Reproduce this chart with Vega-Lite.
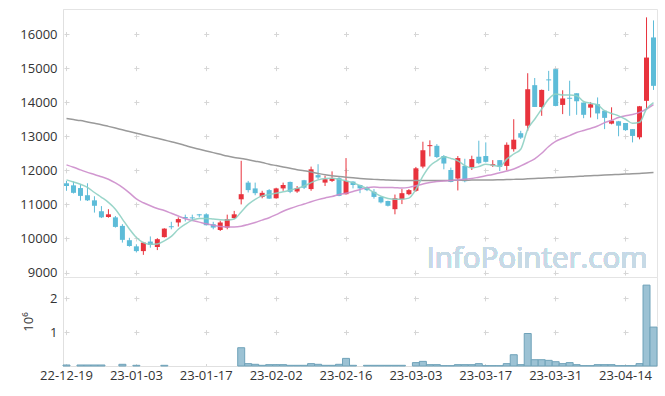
{
  "$schema": "https://vega.github.io/schema/vega-lite/v6.json",
  "autosize": {"type": "pad"},
  "padding": {"left": 19, "top": 8, "right": 9, "bottom": 5},
  "background": "white",
  "spacing": 0,
  "bounds": "flush",
  "config": {
    "view": {"stroke": "#e4e4e4", "strokeWidth": 1},
    "axis": {
      "labelFont": "Open Sans",
      "labelFontSize": 13,
      "labelColor": "#333333",
      "titleFont": "Open Sans",
      "domainColor": "#e0e0e0",
      "ticks": false,
      "gridColor": "#d6d6d6",
      "gridWidth": 1,
      "labelOverlap": false
    }
  },
  "datasets": {
    "stock": [
      {"d": "22-12-19", "o": 11620, "h": 11690, "l": 11400, "c": 11540, "v": 30000, "m5": 11720, "m20": 12160, "m60": 13520},
      {"d": "22-12-20", "o": 11560, "h": 11670, "l": 11320, "c": 11340, "v": 0, "m5": 11660, "m20": 12090, "m60": 13490},
      {"d": "22-12-21", "o": 11480, "h": 11590, "l": 11110, "c": 11250, "v": 30000, "m5": 11590, "m20": 12014, "m60": 13460},
      {"d": "22-12-22", "o": 11270, "h": 11620, "l": 11100, "c": 11120, "v": 30000, "m5": 11500, "m20": 11940, "m60": 13420},
      {"d": "22-12-23", "o": 11120, "h": 11240, "l": 10760, "c": 10960, "v": 30000, "m5": 11350, "m20": 11880, "m60": 13380},
      {"d": "22-12-26", "o": 10800, "h": 10950, "l": 10600, "c": 10620, "v": 30000, "m5": 11210, "m20": 11810, "m60": 13340},
      {"d": "22-12-27", "o": 10630, "h": 10860, "l": 10610, "c": 10710, "v": 0, "m5": 11060, "m20": 11740, "m60": 13290},
      {"d": "22-12-28", "o": 10620, "h": 10660, "l": 10320, "c": 10340, "v": 0, "m5": 10860, "m20": 11630, "m60": 13240},
      {"d": "22-12-29", "o": 10370, "h": 10420, "l": 9880, "c": 9960, "v": 50000, "m5": 10570, "m20": 11500, "m60": 13190},
      {"d": "23-01-02", "o": 9950, "h": 10020, "l": 9760, "c": 9780, "v": 0, "m5": 10280, "m20": 11340, "m60": 13140},
      {"d": "23-01-03", "o": 9770, "h": 9830, "l": 9590, "c": 9630, "v": 20000, "m5": 10030, "m20": 11160, "m60": 13090},
      {"d": "23-01-04", "o": 9630, "h": 9900, "l": 9520, "c": 9880, "v": 0, "m5": 9880, "m20": 11050, "m60": 13040},
      {"d": "23-01-05", "o": 9910, "h": 10060, "l": 9730, "c": 9810, "v": 0, "m5": 9830, "m20": 10960, "m60": 12990},
      {"d": "23-01-06", "o": 9750, "h": 10010, "l": 9660, "c": 9980, "v": 0, "m5": 9840, "m20": 10880, "m60": 12940},
      {"d": "23-01-09", "o": 10040, "h": 10300, "l": 10030, "c": 10290, "v": 20000, "m5": 9930, "m20": 10820, "m60": 12890},
      {"d": "23-01-10", "o": 10360, "h": 10490, "l": 10270, "c": 10330, "v": 0, "m5": 10060, "m20": 10740, "m60": 12840},
      {"d": "23-01-11", "o": 10470, "h": 10620, "l": 10350, "c": 10570, "v": 0, "m5": 10270, "m20": 10660, "m60": 12790},
      {"d": "23-01-12", "o": 10630, "h": 10700, "l": 10500, "c": 10590, "v": 0, "m5": 10420, "m20": 10580, "m60": 12730},
      {"d": "23-01-13", "o": 10620, "h": 10700, "l": 10520, "c": 10590, "v": 0, "m5": 10540, "m20": 10530, "m60": 12670},
      {"d": "23-01-16", "o": 10710, "h": 10720, "l": 10620, "c": 10680, "v": 0, "m5": 10590, "m20": 10480, "m60": 12620},
      {"d": "23-01-17", "o": 10710, "h": 10740, "l": 10380, "c": 10390, "v": 0, "m5": 10590, "m20": 10430, "m60": 12570},
      {"d": "23-01-18", "o": 10420, "h": 10490, "l": 10270, "c": 10320, "v": 0, "m5": 10570, "m20": 10390, "m60": 12520},
      {"d": "23-01-19", "o": 10250, "h": 10520, "l": 10220, "c": 10470, "v": 0, "m5": 10550, "m20": 10350, "m60": 12470},
      {"d": "23-01-20", "o": 10320, "h": 10700, "l": 10270, "c": 10570, "v": 0, "m5": 10540, "m20": 10340, "m60": 12420},
      {"d": "23-01-25", "o": 10600, "h": 10810, "l": 10570, "c": 10710, "v": 0, "m5": 10570, "m20": 10340, "m60": 12380},
      {"d": "23-01-26", "o": 11150, "h": 12280, "l": 11000, "c": 11300, "v": 540000, "m5": 10780, "m20": 10360, "m60": 12350},
      {"d": "23-01-27", "o": 11640, "h": 11690, "l": 11350, "c": 11420, "v": 70000, "m5": 11000, "m20": 10410, "m60": 12310},
      {"d": "23-01-30", "o": 11470, "h": 11640, "l": 11270, "c": 11330, "v": 50000, "m5": 11150, "m20": 10470, "m60": 12270},
      {"d": "23-01-31", "o": 11220, "h": 11400, "l": 11180, "c": 11340, "v": 20000, "m5": 11250, "m20": 10540, "m60": 12230},
      {"d": "23-02-01", "o": 11420, "h": 11450, "l": 11160, "c": 11170, "v": 40000, "m5": 11290, "m20": 10610, "m60": 12180},
      {"d": "23-02-02", "o": 11180, "h": 11490, "l": 11170, "c": 11470, "v": 40000, "m5": 11330, "m20": 10700, "m60": 12140},
      {"d": "23-02-03", "o": 11470, "h": 11640, "l": 11400, "c": 11570, "v": 40000, "m5": 11370, "m20": 10800, "m60": 12100},
      {"d": "23-02-06", "o": 11660, "h": 11670, "l": 11330, "c": 11370, "v": 20000, "m5": 11420, "m20": 10880, "m60": 12060},
      {"d": "23-02-07", "o": 11380, "h": 11540, "l": 11340, "c": 11480, "v": 20000, "m5": 11470, "m20": 10950, "m60": 12020},
      {"d": "23-02-08", "o": 11710, "h": 11720, "l": 11450, "c": 11490, "v": 20000, "m5": 11540, "m20": 11010, "m60": 11990},
      {"d": "23-02-09", "o": 11450, "h": 12110, "l": 11400, "c": 12030, "v": 70000, "m5": 11640, "m20": 11080, "m60": 11950},
      {"d": "23-02-10", "o": 11860, "h": 12180, "l": 11740, "c": 11790, "v": 50000, "m5": 11720, "m20": 11140, "m60": 11910},
      {"d": "23-02-13", "o": 11640, "h": 11840, "l": 11540, "c": 11740, "v": 20000, "m5": 11760, "m20": 11190, "m60": 11870},
      {"d": "23-02-14", "o": 11690, "h": 11970, "l": 11660, "c": 11770, "v": 20000, "m5": 11770, "m20": 11230, "m60": 11840},
      {"d": "23-02-15", "o": 11770, "h": 11800, "l": 11240, "c": 11250, "v": 50000, "m5": 11740, "m20": 11290, "m60": 11820},
      {"d": "23-02-16", "o": 11300, "h": 12360, "l": 11290, "c": 11690, "v": 225000, "m5": 11690, "m20": 11330, "m60": 11800},
      {"d": "23-02-17", "o": 11670, "h": 11680, "l": 11470, "c": 11570, "v": 20000, "m5": 11640, "m20": 11380, "m60": 11780},
      {"d": "23-02-20", "o": 11570, "h": 11580, "l": 11330, "c": 11470, "v": 0, "m5": 11550, "m20": 11440, "m60": 11760},
      {"d": "23-02-21", "o": 11500, "h": 11530, "l": 11390, "c": 11420, "v": 20000, "m5": 11470, "m20": 11490, "m60": 11745},
      {"d": "23-02-22", "o": 11370, "h": 11450, "l": 11170, "c": 11220, "v": 20000, "m5": 11350, "m20": 11510, "m60": 11735},
      {"d": "23-02-23", "o": 11220, "h": 11230, "l": 11030, "c": 11060, "v": 20000, "m5": 11240, "m20": 11500, "m60": 11725},
      {"d": "23-02-24", "o": 11100, "h": 11110, "l": 10940, "c": 10960, "v": 20000, "m5": 11175, "m20": 11500, "m60": 11715},
      {"d": "23-02-27", "o": 10860, "h": 11290, "l": 10710, "c": 11180, "v": 20000, "m5": 11155, "m20": 11490, "m60": 11710},
      {"d": "23-02-28", "o": 11150, "h": 11450, "l": 11010, "c": 11330, "v": 20000, "m5": 11155, "m20": 11480, "m60": 11705},
      {"d": "23-03-02", "o": 11300, "h": 11450, "l": 11270, "c": 11420, "v": 0, "m5": 11185, "m20": 11500, "m60": 11700},
      {"d": "23-03-03", "o": 11400, "h": 12100, "l": 11370, "c": 12060, "v": 100000, "m5": 11440, "m20": 11545, "m60": 11700},
      {"d": "23-03-06", "o": 12110, "h": 12840, "l": 12060, "c": 12590, "v": 137000, "m5": 11830, "m20": 11600, "m60": 11700},
      {"d": "23-03-07", "o": 12710, "h": 12880, "l": 12410, "c": 12740, "v": 40000, "m5": 12130, "m20": 11640, "m60": 11700},
      {"d": "23-03-08", "o": 12720, "h": 12770, "l": 12360, "c": 12390, "v": 40000, "m5": 12280, "m20": 11670, "m60": 11700},
      {"d": "23-03-09", "o": 12420, "h": 12450, "l": 12030, "c": 12200, "v": 10000, "m5": 12400, "m20": 11690, "m60": 11705},
      {"d": "23-03-10", "o": 12010, "h": 12080, "l": 11650, "c": 11660, "v": 10000, "m5": 12350, "m20": 11700, "m60": 11705},
      {"d": "23-03-13", "o": 11760, "h": 12420, "l": 11410, "c": 12360, "v": 40000, "m5": 12280, "m20": 11720, "m60": 11710},
      {"d": "23-03-14", "o": 12130, "h": 12340, "l": 11650, "c": 11680, "v": 40000, "m5": 12140, "m20": 11740, "m60": 11710},
      {"d": "23-03-15", "o": 12090, "h": 12430, "l": 12010, "c": 12330, "v": 40000, "m5": 12070, "m20": 11760, "m60": 11715},
      {"d": "23-03-16", "o": 12400, "h": 12870, "l": 12180, "c": 12210, "v": 70000, "m5": 12110, "m20": 11800, "m60": 11715},
      {"d": "23-03-17", "o": 12420, "h": 12820, "l": 12230, "c": 12250, "v": 10000, "m5": 12180, "m20": 11840, "m60": 11720},
      {"d": "23-03-20", "o": 12140, "h": 12300, "l": 12100, "c": 12180, "v": 10000, "m5": 12150, "m20": 11880, "m60": 11720},
      {"d": "23-03-21", "o": 12300, "h": 12300, "l": 11980, "c": 12100, "v": 10000, "m5": 12110, "m20": 11930, "m60": 11725},
      {"d": "23-03-22", "o": 12130, "h": 12820, "l": 12000, "c": 12750, "v": 70000, "m5": 12330, "m20": 11980, "m60": 11730},
      {"d": "23-03-23", "o": 12620, "h": 13500, "l": 12550, "c": 12900, "v": 333000, "m5": 12480, "m20": 12040, "m60": 11735},
      {"d": "23-03-24", "o": 13090, "h": 13160, "l": 12920, "c": 12960, "v": 40000, "m5": 12620, "m20": 12130, "m60": 11740},
      {"d": "23-03-27", "o": 13310, "h": 14850, "l": 13160, "c": 14380, "v": 960000, "m5": 13210, "m20": 12230, "m60": 11750},
      {"d": "23-03-28", "o": 14500, "h": 14710, "l": 13860, "c": 13860, "v": 186000, "m5": 13500, "m20": 12340, "m60": 11760},
      {"d": "23-03-29", "o": 13860, "h": 14370, "l": 13600, "c": 14360, "v": 186000, "m5": 13800, "m20": 12500, "m60": 11770},
      {"d": "23-03-30", "o": 14670, "h": 14920, "l": 14330, "c": 14640, "v": 167000, "m5": 14090, "m20": 12700, "m60": 11780},
      {"d": "23-03-31", "o": 14970, "h": 14980, "l": 13880, "c": 13890, "v": 127000, "m5": 14240, "m20": 12850, "m60": 11790},
      {"d": "23-04-03", "o": 13920, "h": 14350, "l": 13650, "c": 14110, "v": 70000, "m5": 14210, "m20": 12940, "m60": 11800},
      {"d": "23-04-04", "o": 14130, "h": 14630, "l": 13600, "c": 14100, "v": 100000, "m5": 14210, "m20": 13020, "m60": 11810},
      {"d": "23-04-05", "o": 14260, "h": 14260, "l": 13630, "c": 14030, "v": 40000, "m5": 14190, "m20": 13110, "m60": 11820},
      {"d": "23-04-06", "o": 13990, "h": 13990, "l": 13530, "c": 13630, "v": 10000, "m5": 14020, "m20": 13170, "m60": 11830},
      {"d": "23-04-07", "o": 13840, "h": 14000, "l": 13550, "c": 13940, "v": 10000, "m5": 13970, "m20": 13230, "m60": 11840},
      {"d": "23-04-10", "o": 13940, "h": 14140, "l": 13500, "c": 13670, "v": 40000, "m5": 13920, "m20": 13300, "m60": 11850},
      {"d": "23-04-11", "o": 13750, "h": 13750, "l": 13210, "c": 13540, "v": 40000, "m5": 13750, "m20": 13400, "m60": 11860},
      {"d": "23-04-12", "o": 13370, "h": 13850, "l": 13350, "c": 13460, "v": 40000, "m5": 13670, "m20": 13470, "m60": 11870},
      {"d": "23-04-13", "o": 13440, "h": 13450, "l": 13000, "c": 13310, "v": 10000, "m5": 13600, "m20": 13550, "m60": 11880},
      {"d": "23-04-14", "o": 13390, "h": 13390, "l": 13160, "c": 13180, "v": 10000, "m5": 13500, "m20": 13600, "m60": 11890},
      {"d": "23-04-17", "o": 13210, "h": 13210, "l": 12820, "c": 13010, "v": 10000, "m5": 13380, "m20": 13640, "m60": 11900},
      {"d": "23-04-18", "o": 12970, "h": 13890, "l": 12910, "c": 13880, "v": 70000, "m5": 13410, "m20": 13700, "m60": 11910},
      {"d": "23-04-19", "o": 14040, "h": 16490, "l": 13770, "c": 15310, "v": 2390000, "m5": 13800, "m20": 13800, "m60": 11920},
      {"d": "23-04-20", "o": 15900, "h": 16400, "l": 14360, "c": 14480, "v": 1150000, "m5": 13990, "m20": 13930, "m60": 11935}
    ]
  },
  "vconcat": [
    {
      "width": 594,
      "height": 268,
      "data": {"name": "stock"},
      "encoding": {
        "x": {
          "field": "d",
          "type": "ordinal",
          "sort": null,
          "scale": {"paddingInner": 0, "paddingOuter": 0},
          "axis": {
            "title": null,
            "labels": false,
            "domain": false,
            "minExtent": 0,
            "maxExtent": 0,
            "values": ["22-12-19", "23-01-03", "23-01-17", "23-02-02", "23-02-16", "23-03-03", "23-03-17", "23-03-31", "23-04-14"],
            "grid": true,
            "gridDash": [5, 29.075],
            "gridDashOffset": 11.525
          }
        }
      },
      "layer": [
        {
          "mark": {"type": "rule", "strokeWidth": 1},
          "encoding": {
            "y": {
              "field": "l",
              "type": "quantitative",
              "scale": {"domain": [8870, 16735], "nice": false, "zero": false},
              "axis": {
                "title": null,
                "format": "d",
                "labelOverlap": false,
                "tickCount": 20,
                "values": [9000, 10000, 11000, 12000, 13000, 14000, 15000, 16000],
                "labelPadding": 6,
                "grid": true,
                "gridDash": [5, 64.88],
                "gridDashOffset": 68.886
              }
            },
            "y2": {"field": "h"},
            "color": {"condition": {"test": "datum.c >= datum.o", "value": "#e8333d"}, "value": "#5dbcd8"}
          }
        },
        {
          "mark": {"type": "bar", "width": 5},
          "encoding": {
            "y": {"field": "o", "type": "quantitative"},
            "y2": {"field": "c"},
            "color": {"condition": {"test": "datum.c >= datum.o", "value": "#e8333d"}, "value": "#5dbcd8"}
          }
        },
        {
          "mark": {"type": "line", "interpolate": "monotone", "strokeWidth": 1.5, "color": "#9a9a9a"},
          "encoding": {"y": {"field": "m60", "type": "quantitative"}}
        },
        {
          "mark": {"type": "line", "interpolate": "monotone", "strokeWidth": 1.5, "color": "#cc8ccb", "opacity": 0.9},
          "encoding": {"y": {"field": "m20", "type": "quantitative"}}
        },
        {
          "mark": {"type": "line", "interpolate": "monotone", "strokeWidth": 1.5, "color": "#8ed0c3", "opacity": 0.9},
          "encoding": {"y": {"field": "m5", "type": "quantitative"}}
        },
        {
          "mark": {"type": "text", "text": "InfoPointer.com", "font": "Open Sans", "fontSize": 29.5, "color": "#c7dae6", "align": "right", "baseline": "alphabetic", "dx": -6},
          "encoding": {
            "x": {"datum": "23-04-20"},
            "y": {"datum": 9140}
          }
        }
      ]
    },
    {
      "width": 594,
      "height": 89,
      "data": {"name": "stock"},
      "transform": [{"filter": "datum.v > 0"}],
      "mark": {"type": "bar", "fill": "#9cc2d4", "stroke": "#6fa2b9", "strokeWidth": 1},
      "encoding": {
        "x": {
          "field": "d",
          "type": "ordinal",
          "sort": {"field": "d"},
          "scale": {"domain": {"data": "stock", "field": "d"}, "paddingInner": 0, "paddingOuter": 0},
          "axis": {
            "title": null,
            "labelAngle": 0,
            "labelPadding": 3,
            "values": ["22-12-19", "23-01-03", "23-01-17", "23-02-02", "23-02-16", "23-03-03", "23-03-17", "23-03-31", "23-04-14"],
            "grid": true,
            "gridDash": [5, 28.84],
            "gridDashOffset": 15.02
          }
        },
        "y": {
          "field": "v",
          "type": "quantitative",
          "scale": {"domain": [0, 2630000], "nice": false},
          "axis": {
            "title": "10⁶",
            "titleFontWeight": "normal",
            "titleFontSize": 13,
            "titleColor": "#333333",
            "titlePadding": 14,
            "values": [1000000, 2000000],
            "labelExpr": "datum.value / 1000000",
            "labelPadding": 6,
            "grid": true,
            "gridDash": [5, 64.88],
            "gridDashOffset": 68.886
          }
        }
      }
    }
  ]
}
